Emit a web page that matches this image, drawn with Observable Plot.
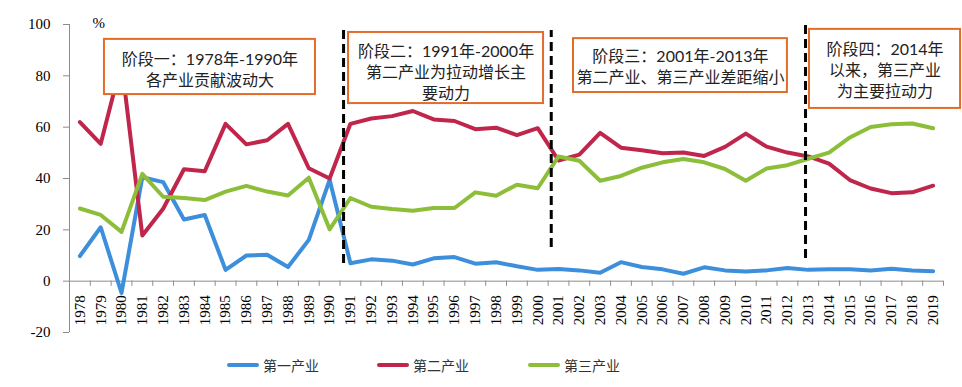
<!DOCTYPE html>
<html>
<head>
<meta charset="utf-8">
<script src="https://cdn.jsdelivr.net/npm/d3@7"></script>
<script src="https://cdn.jsdelivr.net/npm/@observablehq/plot@0.6"></script>
<style>
  html, body { margin: 0; padding: 0; background: #fff; }
  #chart svg { display: block; overflow: visible; }
  #legend { position: relative; height: 42px; font-family: "Noto Sans CJK SC", sans-serif; font-size: 14px; color: #333; }
  .item { position: absolute; top: 10px; display: flex; align-items: center; height: 20px; }
  .swatch { width: 32px; height: 4px; margin-right: 4px; border-radius: 2px; }
</style>
</head>
<body>
<div id="chart"></div>
<div id="legend"></div>
<script>
// ---- data ----
const years = [1978,1979,1980,1981,1982,1983,1984,1985,1986,1987,1988,1989,1990,
  1991,1992,1993,1994,1995,1996,1997,1998,1999,2000,2001,2002,2003,2004,2005,2006,
  2007,2008,2009,2010,2011,2012,2013,2014,2015,2016,2017,2018,2019];
const seriesNames = ["第一产业", "第二产业", "第三产业"];
const primary = [9.8,21.0,-4.6,40.5,38.6,24.0,25.8,4.4,10.0,10.3,5.5,16.1,39.5,
  7.0,8.5,8.0,6.5,8.9,9.4,6.8,7.4,5.8,4.4,4.7,4.2,3.3,7.4,5.5,4.6,
  2.9,5.4,4.2,3.8,4.2,5.1,4.4,4.6,4.6,4.2,4.8,4.2,3.9];
const secondary = [62.0,53.5,85.2,17.8,28.2,43.6,42.8,61.3,53.3,54.9,61.3,44.0,40.0,
  61.3,63.4,64.3,66.3,63.0,62.4,59.2,59.8,56.9,59.6,47.0,49.3,57.8,52.0,51.0,49.8,
  50.1,48.8,52.3,57.5,52.4,50.1,48.6,45.8,39.4,36.1,34.3,34.6,37.2];
const tertiary = [28.3,25.8,19.2,41.8,32.9,32.4,31.6,34.9,37.1,34.9,33.4,40.3,20.2,
  32.4,29.0,28.1,27.4,28.5,28.5,34.6,33.3,37.6,36.2,48.6,46.9,39.1,41.0,44.2,46.3,
  47.6,46.3,43.7,39.1,43.9,45.2,47.7,50.1,56.0,60.1,61.1,61.4,59.6];
const yTicks = [-20, 0, 20, 40, 60, 80, 100];
const stageLabels = [
  "阶段一：1978年-1990年\n各产业贡献波动大",
  "阶段二：1991年-2000年\n第二产业为拉动增长主\n要动力",
  "阶段三：2001年-2013年\n第二产业、第三产业差距缩小",
  "阶段四：2014年\n以来，第三产业\n为主要拉动力"
];
const stageBreaks = [1990.67, 2000.65, 2012.87];

// ---- layout (annotation placement, in data units) ----
const boxLayout = [
  {x1: 1979.18, x2: 1989.32, y1: 72.7, y2: 94.2, ty: 82.7},
  {x1: 1990.91, x2: 2000.28, y1: 69.2, y2: 96.9, ty: 81.8},
  {x1: 2001.72, x2: 2012.0,  y1: 73.5, y2: 94.5, ty: 83.8},
  {x1: 2013.06, x2: 2020.32, y1: 67.3, y2: 98.1, ty: 82.6}
];
const breakSpans = [{y1: 6.9, y2: 98.4}, {y1: 13.1, y2: 97.7}, {y1: 8.8, y2: 99.6}];
const colors = ["#3D8FDB", "#C0264B", "#8DBE3A"];
const serif = "Liberation Serif";

const xMin = years[0] - 0.5, xMax = years[years.length - 1] + 0.5;
const rows = (vals) => years.map((yr, i) => ({year: yr, value: vals[i]}));
const boxes = boxLayout.map((b, i) => ({...b, label: stageLabels[i], tx: (b.x1 + b.x2) / 2}));
const breaks = stageBreaks.map((x, i) => ({x, ...breakSpans[i]}));
const tickPos = years.map(y => y - 0.5).concat([xMax]);

const lineOpts = {x: "year", y: "value", strokeWidth: 4, strokeLinejoin: "round", strokeLinecap: "round"};

const chart = Plot.plot({
  width: 962,
  height: 345,
  marginLeft: 69,
  marginRight: 19,
  marginTop: 24,
  marginBottom: 13,
  x: {domain: [xMin, xMax], axis: null},
  y: {domain: [-20, 100], axis: null},
  style: {fontFamily: serif, fontSize: "15px", background: "white", color: "#000"},
  marks: [
    Plot.ruleX([xMin], {y1: -20, y2: 100, stroke: "#8c8c8c"}),
    Plot.axisY(yTicks, {tickSize: 6, tickPadding: 13, stroke: "#8c8c8c", fill: "#000",
      fontSize: 15, fontFamily: serif, label: null, tickFormat: d => String(d)}),
    Plot.ruleY([0], {x1: xMin, x2: xMax, stroke: "#8c8c8c"}),
    Plot.ruleX(tickPos, {y1: 0, y2: -2, stroke: "#8c8c8c"}),
    Plot.text(years, {x: d => d, y: 0, text: d => String(d), dy: 14, rotate: -90, textAnchor: "end",
      fontSize: 15, fontFamily: serif, fill: "#000"}),
    Plot.text(["%"], {x: 1978.9, y: 100.4, fontSize: 15, fontFamily: serif, fill: "#000"}),
    Plot.line(rows(primary), {...lineOpts, stroke: colors[0]}),
    Plot.line(rows(secondary), {...lineOpts, stroke: colors[1]}),
    Plot.line(rows(tertiary), {...lineOpts, stroke: colors[2]}),
    Plot.ruleX(breaks, {x: "x", y1: "y1", y2: "y2", stroke: "#000", strokeWidth: 3, strokeDasharray: "9,5"}),
    Plot.rect(boxes, {x1: "x1", x2: "x2", y1: "y1", y2: "y2", fill: "white", stroke: "#E46C2A", strokeWidth: 2}),
    Plot.text(boxes, {x: "tx", y: "ty", text: "label", lineHeight: 1.3, fontSize: 16, fill: "#222",
      fontFamily: "Lato, 'Noto Sans CJK SC', sans-serif", textAnchor: "middle", lineAnchor: "middle"})
  ]
});
document.getElementById("chart").appendChild(chart);

const legend = document.getElementById("legend");
const itemLeft = [227, 377, 528];
seriesNames.forEach((name, i) => {
  const it = document.createElement("div");
  it.className = "item";
  it.style.left = itemLeft[i] + "px";
  it.innerHTML = `<span class="swatch" style="background:${colors[i]}"></span><span>${name}</span>`;
  legend.appendChild(it);
});
</script>
</body>
</html>
